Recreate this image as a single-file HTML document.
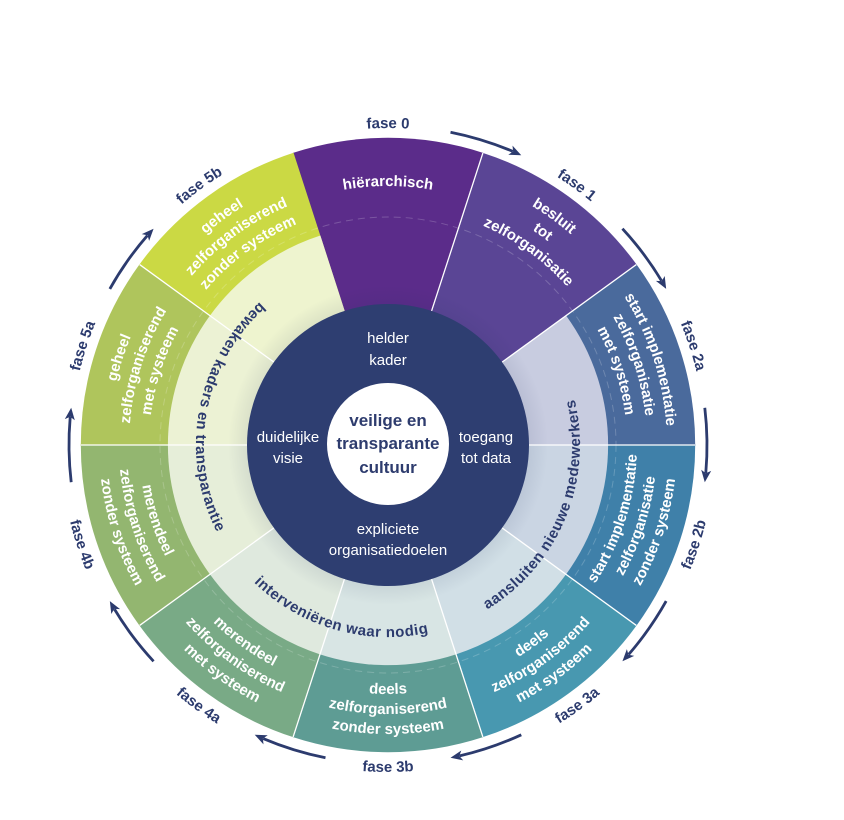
<!DOCTYPE html>
<html>
<head>
<meta charset="utf-8">
<style>
html,body{margin:0;padding:0;background:#ffffff;}
svg{display:block;}
text{font-family:"Liberation Sans",sans-serif;}
</style>
</head>
<body>
<svg width="844" height="820" viewBox="0 0 844 820" xmlns="http://www.w3.org/2000/svg">
<defs>
  <path id="sO" d="M388 445 L292.6 153.0 A307 307 0 0 1 483.4 153.0 Z"/>
  <path id="sI" d="M388 445 L319.6 235.8 A220 220 0 0 1 456.4 235.8 Z"/>
  <path id="t279" d="M208.7 231.3 A279 279 0 0 1 567.3 231.3"/>
  <path id="t259" d="M221.5 246.6 A259 259 0 0 1 554.5 246.6"/>
  <path id="t239" d="M234.4 261.9 A239 239 0 0 1 541.6 261.9"/>
  <path id="b249" d="M227.9 635.7 A249 249 0 0 0 548.1 635.7"/>
  <path id="b269" d="M215.1 651.1 A269 269 0 0 0 560.9 651.1"/>
  <path id="b289" d="M202.2 666.4 A289 289 0 0 0 573.8 666.4"/>
  <path id="fT" d="M229.5 170.5 A317 317 0 0 1 546.5 170.5"/>
  <path id="fB" d="M224.5 728.2 A327 327 0 0 0 551.5 728.2"/>
  <path id="ir" d="M221.7 541 A192 192 0 0 0 554.3 541"/>
  <radialGradient id="sh" cx="388" cy="445" r="160" gradientUnits="userSpaceOnUse">
    <stop offset="0.87" stop-color="#1d2a55" stop-opacity="0.09"/>
    <stop offset="1" stop-color="#1d2a55" stop-opacity="0"/>
  </radialGradient>
  <g id="arr">
    <path d="M350.8 128.2 A319 319 0 0 1 416 127.2" fill="none" stroke="#2c3b6e" stroke-width="2.8"/>
    <polygon points="425.2,128.2 413.9,121.8 416.3,127.2 412.7,131.8" fill="#2c3b6e"/>
  </g>
</defs>

<use href="#sO" fill="#5b2c8a"/>
<use href="#sO" fill="#5a4595" transform="rotate(36 388 445)"/>
<use href="#sO" fill="#4a6a9c" transform="rotate(72 388 445)"/>
<use href="#sO" fill="#3f80a9" transform="rotate(108 388 445)"/>
<use href="#sO" fill="#4898b0" transform="rotate(144 388 445)"/>
<use href="#sO" fill="#5e9c94" transform="rotate(180 388 445)"/>
<use href="#sO" fill="#79aa86" transform="rotate(216 388 445)"/>
<use href="#sO" fill="#93b670" transform="rotate(252 388 445)"/>
<use href="#sO" fill="#afc55c" transform="rotate(288 388 445)"/>
<use href="#sO" fill="#cbd944" transform="rotate(324 388 445)"/>

<circle cx="388" cy="445" r="228" fill="none" stroke="#ffffff" stroke-opacity="0.2" stroke-width="1" stroke-dasharray="7 5"/>

<use href="#sI" fill="#c8cce0" transform="rotate(72 388 445)"/>
<use href="#sI" fill="#cad5e3" transform="rotate(108 388 445)"/>
<use href="#sI" fill="#d1dfe6" transform="rotate(144 388 445)"/>
<use href="#sI" fill="#d8e5e4" transform="rotate(180 388 445)"/>
<use href="#sI" fill="#dfe9de" transform="rotate(216 388 445)"/>
<use href="#sI" fill="#e6eed9" transform="rotate(252 388 445)"/>
<use href="#sI" fill="#ecf2d4" transform="rotate(288 388 445)"/>
<use href="#sI" fill="#eef4cf" transform="rotate(324 388 445)"/>

<circle cx="388" cy="445" r="160" fill="url(#sh)"/>

<g stroke="#ffffff" stroke-width="1.3">
  <line x1="388" y1="304" x2="388" y2="138" transform="rotate(18 388 445)"/>
  <line x1="388" y1="304" x2="388" y2="138" transform="rotate(54 388 445)"/>
  <line x1="388" y1="304" x2="388" y2="138" transform="rotate(90 388 445)"/>
  <line x1="388" y1="304" x2="388" y2="138" transform="rotate(126 388 445)"/>
  <line x1="388" y1="304" x2="388" y2="138" transform="rotate(162 388 445)"/>
  <line x1="388" y1="304" x2="388" y2="138" transform="rotate(198 388 445)"/>
  <line x1="388" y1="304" x2="388" y2="138" transform="rotate(234 388 445)"/>
  <line x1="388" y1="304" x2="388" y2="138" transform="rotate(270 388 445)"/>
  <line x1="388" y1="304" x2="388" y2="138" transform="rotate(306 388 445)"/>
</g>

<circle cx="388" cy="445" r="141" fill="#2e3e71"/>
<circle cx="388" cy="444" r="61" fill="#ffffff"/>

<g font-weight="bold" font-size="17" fill="#2e3c6e" text-anchor="middle">
  <text x="388" y="426">veilige en</text>
  <text x="388" y="449">transparante</text>
  <text x="388" y="473">cultuur</text>
</g>

<g font-size="15" fill="#ffffff" text-anchor="middle">
  <text x="388" y="343">helder</text>
  <text x="388" y="365">kader</text>
  <text x="288" y="442">duidelijke</text>
  <text x="288" y="463">visie</text>
  <text x="486" y="442">toegang</text>
  <text x="486" y="463">tot data</text>
  <text x="388" y="534">expliciete</text>
  <text x="388" y="555">organisatiedoelen</text>
</g>

<g font-weight="bold" font-size="15" fill="#2c3b6e" letter-spacing="0.5">
  <text transform="rotate(100.5 388 445)"><textPath href="#ir" startOffset="50%" text-anchor="middle">bewaken kaders en transparantie</textPath></text>
  <text transform="rotate(16 388 445)"><textPath href="#ir" startOffset="50%" text-anchor="middle">interveniëren waar nodig</textPath></text>
  <text transform="rotate(-67.5 388 445)"><textPath href="#ir" startOffset="50%" text-anchor="middle">aansluiten nieuwe medewerkers</textPath></text>
</g>

<g font-weight="bold" font-size="15" fill="#ffffff">
  <text><textPath href="#t259" startOffset="50%" text-anchor="middle">hiërarchisch</textPath></text>
  <g transform="rotate(36 388 445)">
    <text><textPath href="#t279" startOffset="50%" text-anchor="middle">besluit</textPath></text>
    <text><textPath href="#t259" startOffset="50%" text-anchor="middle">tot</textPath></text>
    <text><textPath href="#t239" startOffset="50%" text-anchor="middle">zelforganisatie</textPath></text>
  </g>
  <g transform="rotate(72 388 445)">
    <text><textPath href="#t279" startOffset="50%" text-anchor="middle">start implementatie</textPath></text>
    <text><textPath href="#t259" startOffset="50%" text-anchor="middle">zelforganisatie</textPath></text>
    <text><textPath href="#t239" startOffset="50%" text-anchor="middle">met systeem</textPath></text>
  </g>
  <g transform="rotate(-72 388 445)">
    <text><textPath href="#t279" startOffset="50%" text-anchor="middle">geheel</textPath></text>
    <text><textPath href="#t259" startOffset="50%" text-anchor="middle">zelforganiserend</textPath></text>
    <text><textPath href="#t239" startOffset="50%" text-anchor="middle">met systeem</textPath></text>
  </g>
  <g transform="rotate(-36 388 445)">
    <text><textPath href="#t279" startOffset="50%" text-anchor="middle">geheel</textPath></text>
    <text><textPath href="#t259" startOffset="50%" text-anchor="middle">zelforganiserend</textPath></text>
    <text><textPath href="#t239" startOffset="50%" text-anchor="middle">zonder systeem</textPath></text>
  </g>
  <g transform="rotate(-72 388 445)">
    <text><textPath href="#b249" startOffset="50%" text-anchor="middle">start implementatie</textPath></text>
    <text><textPath href="#b269" startOffset="50%" text-anchor="middle">zelforganisatie</textPath></text>
    <text><textPath href="#b289" startOffset="50%" text-anchor="middle">zonder systeem</textPath></text>
  </g>
  <g transform="rotate(-36 388 445)">
    <text><textPath href="#b249" startOffset="50%" text-anchor="middle">deels</textPath></text>
    <text><textPath href="#b269" startOffset="50%" text-anchor="middle">zelforganiserend</textPath></text>
    <text><textPath href="#b289" startOffset="50%" text-anchor="middle">met systeem</textPath></text>
  </g>
  <g>
    <text><textPath href="#b249" startOffset="50%" text-anchor="middle">deels</textPath></text>
    <text><textPath href="#b269" startOffset="50%" text-anchor="middle">zelforganiserend</textPath></text>
    <text><textPath href="#b289" startOffset="50%" text-anchor="middle">zonder systeem</textPath></text>
  </g>
  <g transform="rotate(36 388 445)">
    <text><textPath href="#b249" startOffset="50%" text-anchor="middle">merendeel</textPath></text>
    <text><textPath href="#b269" startOffset="50%" text-anchor="middle">zelforganiserend</textPath></text>
    <text><textPath href="#b289" startOffset="50%" text-anchor="middle">met systeem</textPath></text>
  </g>
  <g transform="rotate(72 388 445)">
    <text><textPath href="#b249" startOffset="50%" text-anchor="middle">merendeel</textPath></text>
    <text><textPath href="#b269" startOffset="50%" text-anchor="middle">zelforganiserend</textPath></text>
    <text><textPath href="#b289" startOffset="50%" text-anchor="middle">zonder systeem</textPath></text>
  </g>
</g>

<g font-weight="bold" font-size="15" fill="#2c3b6e">
  <text><textPath href="#fT" startOffset="50%" text-anchor="middle">fase 0</textPath></text>
  <text transform="rotate(36 388 445)"><textPath href="#fT" startOffset="50%" text-anchor="middle">fase 1</textPath></text>
  <text transform="rotate(72 388 445)"><textPath href="#fT" startOffset="50%" text-anchor="middle">fase 2a</textPath></text>
  <text transform="rotate(-72 388 445)"><textPath href="#fT" startOffset="50%" text-anchor="middle">fase 5a</textPath></text>
  <text transform="rotate(-36 388 445)"><textPath href="#fT" startOffset="50%" text-anchor="middle">fase 5b</textPath></text>
  <text transform="rotate(-72 388 445)"><textPath href="#fB" startOffset="50%" text-anchor="middle">fase 2b</textPath></text>
  <text transform="rotate(-36 388 445)"><textPath href="#fB" startOffset="50%" text-anchor="middle">fase 3a</textPath></text>
  <text><textPath href="#fB" startOffset="50%" text-anchor="middle">fase 3b</textPath></text>
  <text transform="rotate(36 388 445)"><textPath href="#fB" startOffset="50%" text-anchor="middle">fase 4a</textPath></text>
  <text transform="rotate(72 388 445)"><textPath href="#fB" startOffset="50%" text-anchor="middle">fase 4b</textPath></text>
</g>

<use href="#arr" transform="rotate(18 388 445)"/>
<use href="#arr" transform="rotate(54 388 445)"/>
<use href="#arr" transform="rotate(90 388 445)"/>
<use href="#arr" transform="rotate(126 388 445)"/>
<use href="#arr" transform="rotate(162 388 445)"/>
<use href="#arr" transform="rotate(198 388 445)"/>
<use href="#arr" transform="rotate(234 388 445)"/>
<use href="#arr" transform="rotate(270 388 445)"/>
<use href="#arr" transform="rotate(306 388 445)"/>
</svg>
</body>
</html>
